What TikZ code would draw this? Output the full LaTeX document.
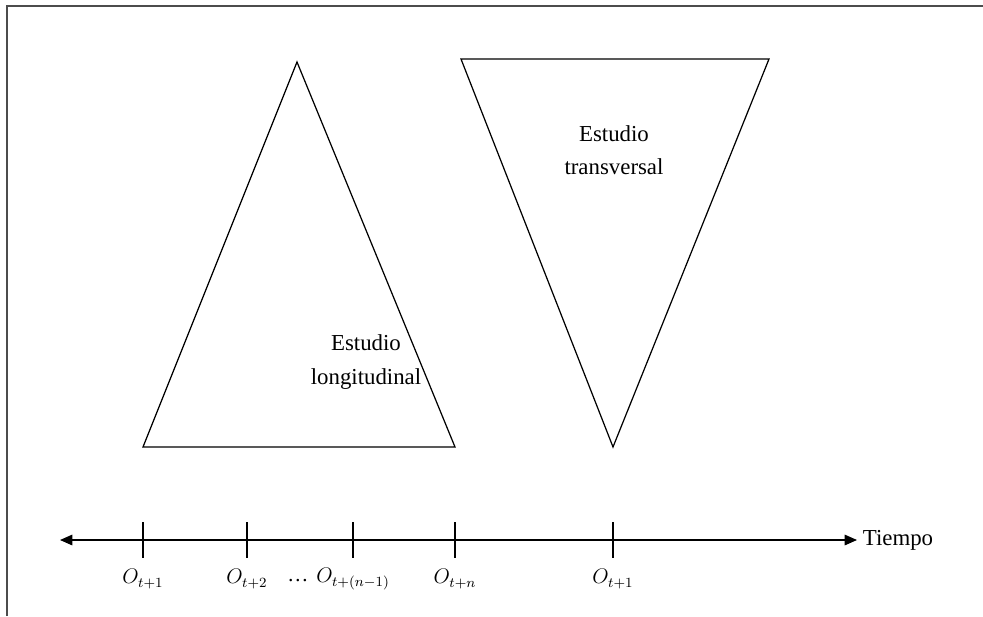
\documentclass[tikz,border=0pt]{standalone}
\usepackage{fontspec}
\setmainfont{Liberation Serif}
\usetikzlibrary{arrows.meta}

\begin{document}
\begin{tikzpicture}[x=0.02cm,y=-0.02cm,font=\fontsize{13}{19}\selectfont,line width=0.7pt]
  \useasboundingbox (0,0) rectangle (983,616);
  % frame (only top and left edges show)
  \draw[line width=1.3pt,black!70] (7,616) -- (7,6) -- (983,6);
  % longitudinal triangle
  \coordinate (lapex) at (297,62);
  \coordinate (lleft) at (143,447);
  \coordinate (lright) at (455,447);
  \draw (lapex) -- (lright) -- (lleft) -- cycle;
  \node[align=center] (long) at (366,362) {Estudio\\longitudinal};
  % transversal triangle
  \coordinate (tleft) at (461,59);
  \coordinate (tright) at (769,59);
  \coordinate (tapex) at (613,447);
  \draw (tleft) -- (tright) -- (tapex) -- cycle;
  \node[align=center] (trans) at (614,150) {Estudio\\transversal};
  % time axis
  \coordinate (axl) at (60,540);
  \coordinate (axr) at (857,540);
  \draw[{Triangle[length=7pt,width=6pt]}-{Triangle[length=7pt,width=6pt]}] (axl) -- (axr);
  \node[anchor=west,inner sep=3pt] (tiempo) at (axr) {Tiempo};
  \foreach \x/\lab/\nm in {143/{t+1}/o1,247/{t+2}/o2,353/{t+(n-1)}/o3,455/{t+n}/o4,613/{t+1}/o5}{
    \draw (\x,522) -- (\x,558);
    \node[font=\fontsize{12}{15}\selectfont] (\nm) at (\x,579) {$O_{\lab}$};
  }
  \node[inner sep=0pt,font=\fontsize{12}{15}\selectfont] (dots) at (298,581) {\dots};
\end{tikzpicture}
\end{document}
